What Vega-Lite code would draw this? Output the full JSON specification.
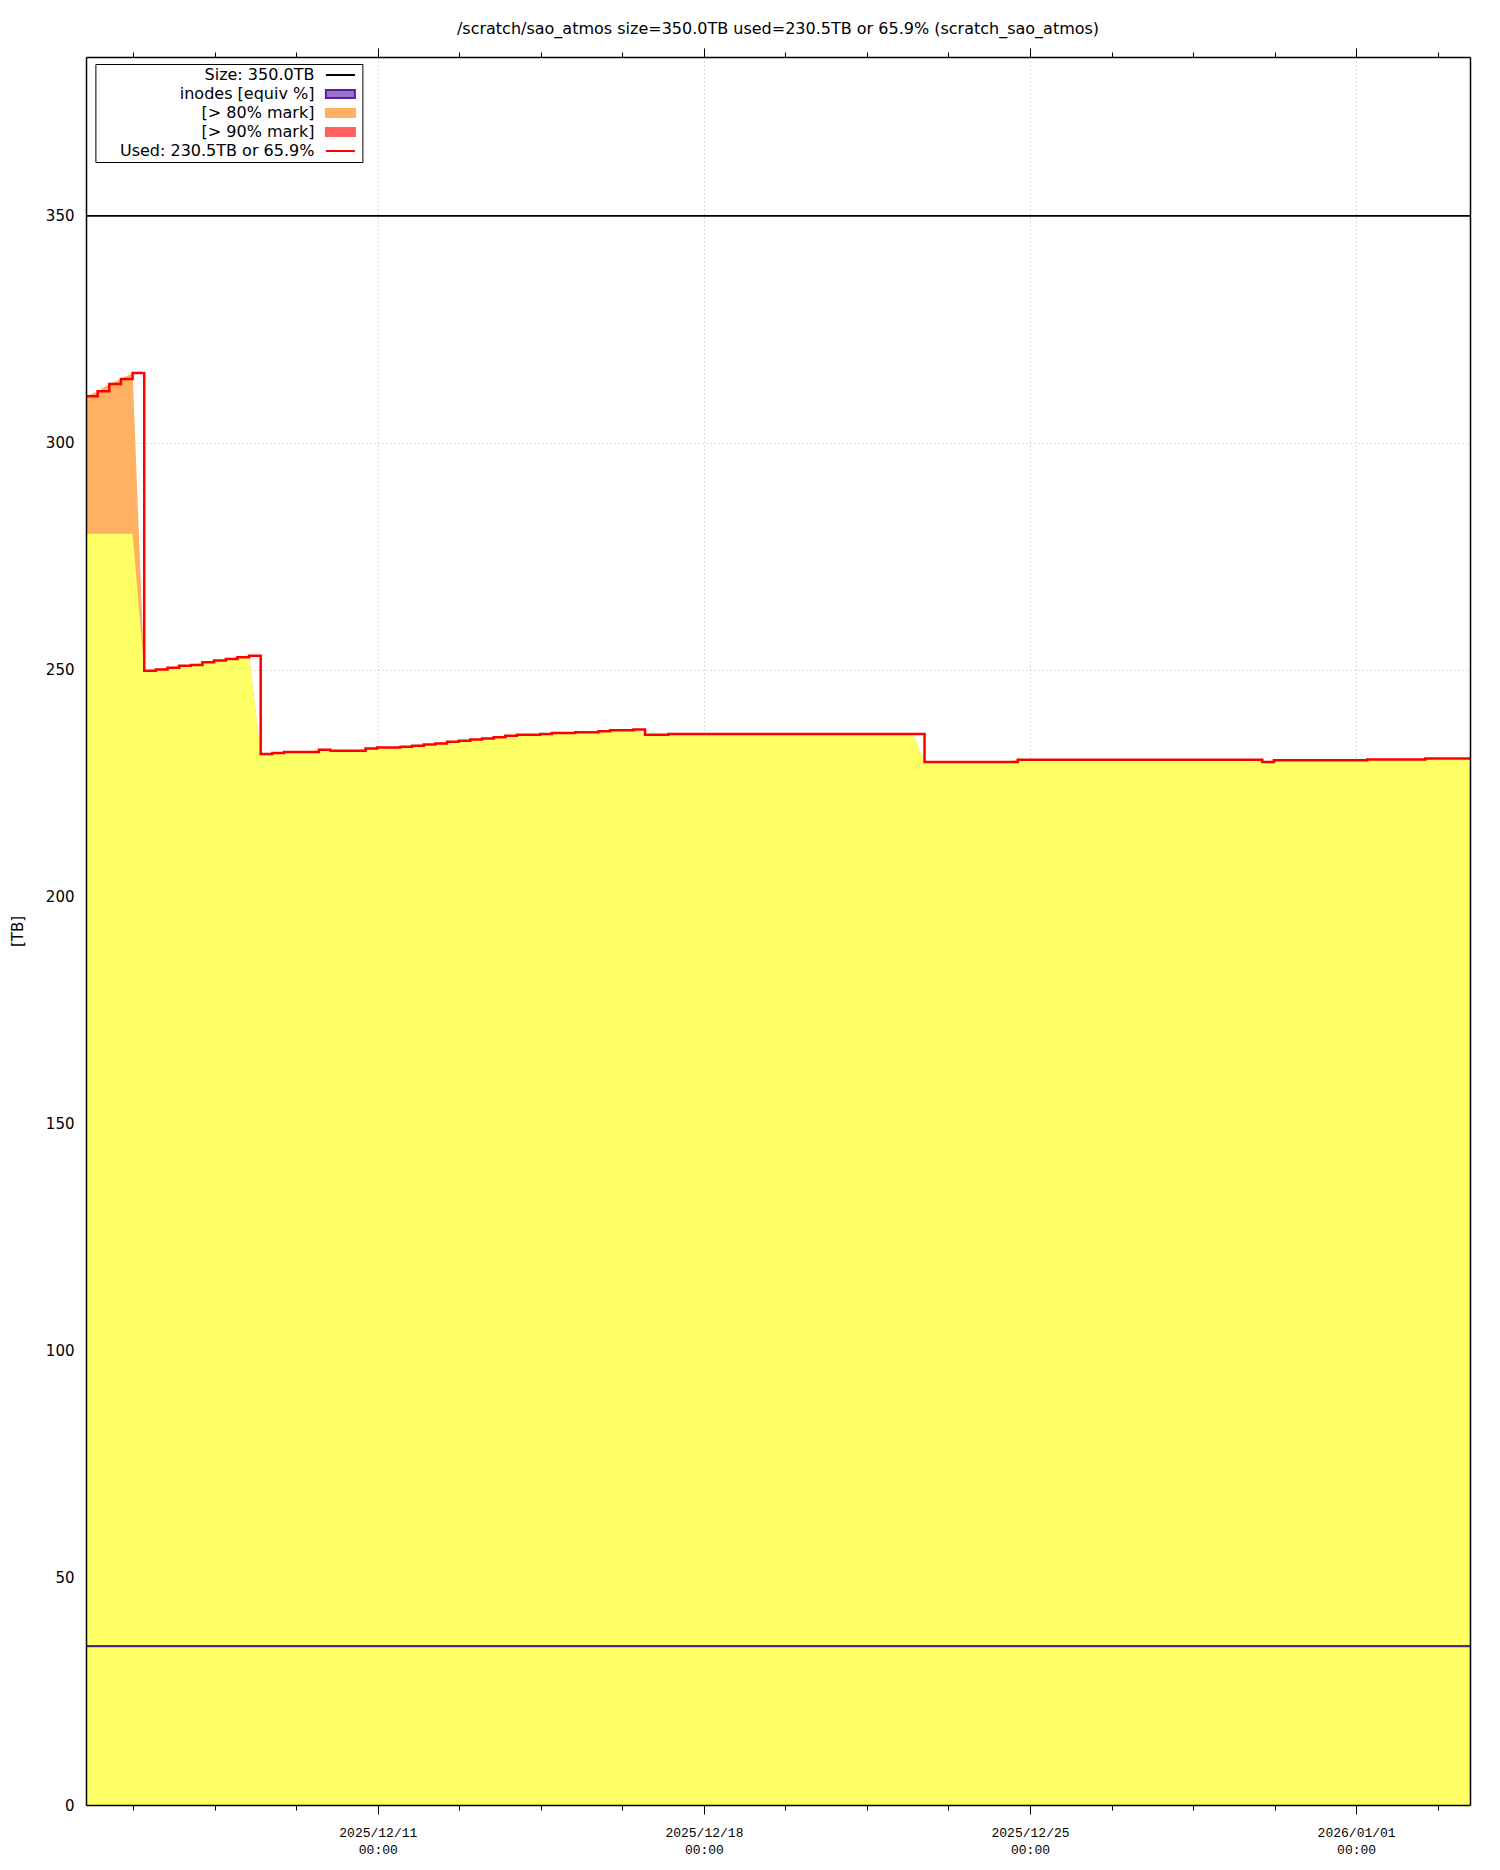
{
  "$schema": "https://vega.github.io/schema/vega-lite/v6.json",
  "width": 1384,
  "height": 1748,
  "autosize": "none",
  "padding": {"left": 86, "top": 57, "right": 30, "bottom": 65},
  "background": "white",
  "title": {
    "text": "/scratch/sao_atmos size=350.0TB used=230.5TB or 65.9% (scratch_sao_atmos)",
    "font": "DejaVu Sans",
    "fontSize": 16,
    "fontWeight": "normal",
    "color": "black",
    "anchor": "middle",
    "baseline": "alphabetic",
    "offset": -2.5
  },
  "config": {
    "view": {"stroke": null},
    "axis": {"labelColor": "black", "tickColor": "black", "domainColor": "black"}
  },
  "datasets": {
    "usage": [
      {"t": "2025-12-04T17:40:00Z", "used": 310.3, "below80": 280},
      {"t": "2025-12-04T23:40:00Z", "used": 311.4, "below80": 280},
      {"t": "2025-12-05T05:40:00Z", "used": 313.0, "below80": 280},
      {"t": "2025-12-05T11:40:00Z", "used": 314.1, "below80": 280},
      {"t": "2025-12-05T17:40:00Z", "used": 315.4, "below80": 280},
      {"t": "2025-12-05T23:40:00Z", "used": 249.8, "below80": 249.8},
      {"t": "2025-12-06T05:40:00Z", "used": 250.1, "below80": 250.1},
      {"t": "2025-12-06T11:40:00Z", "used": 250.5, "below80": 250.5},
      {"t": "2025-12-06T17:40:00Z", "used": 250.9, "below80": 250.9},
      {"t": "2025-12-06T23:40:00Z", "used": 251.1, "below80": 251.1},
      {"t": "2025-12-07T05:40:00Z", "used": 251.7, "below80": 251.7},
      {"t": "2025-12-07T11:40:00Z", "used": 252.1, "below80": 252.1},
      {"t": "2025-12-07T17:40:00Z", "used": 252.4, "below80": 252.4},
      {"t": "2025-12-07T23:40:00Z", "used": 252.8, "below80": 252.8},
      {"t": "2025-12-08T05:40:00Z", "used": 253.1, "below80": 253.1},
      {"t": "2025-12-08T11:40:00Z", "used": 231.5, "below80": 231.5},
      {"t": "2025-12-08T17:40:00Z", "used": 231.7, "below80": 231.7},
      {"t": "2025-12-08T23:40:00Z", "used": 231.9, "below80": 231.9},
      {"t": "2025-12-09T05:40:00Z", "used": 231.9, "below80": 231.9},
      {"t": "2025-12-09T11:40:00Z", "used": 231.9, "below80": 231.9},
      {"t": "2025-12-09T17:40:00Z", "used": 232.4, "below80": 232.4},
      {"t": "2025-12-09T23:40:00Z", "used": 232.2, "below80": 232.2},
      {"t": "2025-12-10T05:40:00Z", "used": 232.2, "below80": 232.2},
      {"t": "2025-12-10T11:40:00Z", "used": 232.2, "below80": 232.2},
      {"t": "2025-12-10T17:40:00Z", "used": 232.7, "below80": 232.7},
      {"t": "2025-12-10T23:40:00Z", "used": 232.9, "below80": 232.9},
      {"t": "2025-12-11T05:40:00Z", "used": 232.9, "below80": 232.9},
      {"t": "2025-12-11T11:40:00Z", "used": 233.1, "below80": 233.1},
      {"t": "2025-12-11T17:40:00Z", "used": 233.3, "below80": 233.3},
      {"t": "2025-12-11T23:40:00Z", "used": 233.6, "below80": 233.6},
      {"t": "2025-12-12T05:40:00Z", "used": 233.8, "below80": 233.8},
      {"t": "2025-12-12T11:40:00Z", "used": 234.2, "below80": 234.2},
      {"t": "2025-12-12T17:40:00Z", "used": 234.4, "below80": 234.4},
      {"t": "2025-12-12T23:40:00Z", "used": 234.7, "below80": 234.7},
      {"t": "2025-12-13T05:40:00Z", "used": 234.9, "below80": 234.9},
      {"t": "2025-12-13T11:40:00Z", "used": 235.2, "below80": 235.2},
      {"t": "2025-12-13T17:40:00Z", "used": 235.5, "below80": 235.5},
      {"t": "2025-12-13T23:40:00Z", "used": 235.7, "below80": 235.7},
      {"t": "2025-12-14T05:40:00Z", "used": 235.7, "below80": 235.7},
      {"t": "2025-12-14T11:40:00Z", "used": 235.9, "below80": 235.9},
      {"t": "2025-12-14T17:40:00Z", "used": 236.1, "below80": 236.1},
      {"t": "2025-12-14T23:40:00Z", "used": 236.1, "below80": 236.1},
      {"t": "2025-12-15T05:40:00Z", "used": 236.3, "below80": 236.3},
      {"t": "2025-12-15T11:40:00Z", "used": 236.3, "below80": 236.3},
      {"t": "2025-12-15T17:40:00Z", "used": 236.5, "below80": 236.5},
      {"t": "2025-12-15T23:40:00Z", "used": 236.7, "below80": 236.7},
      {"t": "2025-12-16T05:40:00Z", "used": 236.7, "below80": 236.7},
      {"t": "2025-12-16T11:40:00Z", "used": 236.9, "below80": 236.9},
      {"t": "2025-12-16T17:40:00Z", "used": 235.7, "below80": 235.7},
      {"t": "2025-12-16T23:40:00Z", "used": 235.7, "below80": 235.7},
      {"t": "2025-12-17T05:40:00Z", "used": 235.9, "below80": 235.9},
      {"t": "2025-12-17T11:40:00Z", "used": 235.9, "below80": 235.9},
      {"t": "2025-12-17T17:40:00Z", "used": 235.9, "below80": 235.9},
      {"t": "2025-12-17T23:40:00Z", "used": 235.9, "below80": 235.9},
      {"t": "2025-12-18T05:40:00Z", "used": 235.9, "below80": 235.9},
      {"t": "2025-12-18T11:40:00Z", "used": 235.9, "below80": 235.9},
      {"t": "2025-12-18T17:40:00Z", "used": 235.9, "below80": 235.9},
      {"t": "2025-12-18T23:40:00Z", "used": 235.9, "below80": 235.9},
      {"t": "2025-12-19T05:40:00Z", "used": 235.9, "below80": 235.9},
      {"t": "2025-12-19T11:40:00Z", "used": 235.9, "below80": 235.9},
      {"t": "2025-12-19T17:40:00Z", "used": 235.9, "below80": 235.9},
      {"t": "2025-12-19T23:40:00Z", "used": 235.9, "below80": 235.9},
      {"t": "2025-12-20T05:40:00Z", "used": 235.9, "below80": 235.9},
      {"t": "2025-12-20T11:40:00Z", "used": 235.9, "below80": 235.9},
      {"t": "2025-12-20T17:40:00Z", "used": 235.9, "below80": 235.9},
      {"t": "2025-12-20T23:40:00Z", "used": 235.9, "below80": 235.9},
      {"t": "2025-12-21T05:40:00Z", "used": 235.9, "below80": 235.9},
      {"t": "2025-12-21T11:40:00Z", "used": 235.9, "below80": 235.9},
      {"t": "2025-12-21T17:40:00Z", "used": 235.9, "below80": 235.9},
      {"t": "2025-12-21T23:40:00Z", "used": 235.9, "below80": 235.9},
      {"t": "2025-12-22T05:40:00Z", "used": 235.9, "below80": 235.9},
      {"t": "2025-12-22T11:40:00Z", "used": 235.9, "below80": 235.9},
      {"t": "2025-12-22T17:40:00Z", "used": 229.7, "below80": 229.7},
      {"t": "2025-12-22T23:40:00Z", "used": 229.7, "below80": 229.7},
      {"t": "2025-12-23T05:40:00Z", "used": 229.7, "below80": 229.7},
      {"t": "2025-12-23T11:40:00Z", "used": 229.7, "below80": 229.7},
      {"t": "2025-12-23T17:40:00Z", "used": 229.7, "below80": 229.7},
      {"t": "2025-12-23T23:40:00Z", "used": 229.7, "below80": 229.7},
      {"t": "2025-12-24T05:40:00Z", "used": 229.7, "below80": 229.7},
      {"t": "2025-12-24T11:40:00Z", "used": 229.7, "below80": 229.7},
      {"t": "2025-12-24T17:40:00Z", "used": 230.2, "below80": 230.2},
      {"t": "2025-12-24T23:40:00Z", "used": 230.2, "below80": 230.2},
      {"t": "2025-12-25T05:40:00Z", "used": 230.2, "below80": 230.2},
      {"t": "2025-12-25T11:40:00Z", "used": 230.2, "below80": 230.2},
      {"t": "2025-12-25T17:40:00Z", "used": 230.2, "below80": 230.2},
      {"t": "2025-12-25T23:40:00Z", "used": 230.2, "below80": 230.2},
      {"t": "2025-12-26T05:40:00Z", "used": 230.2, "below80": 230.2},
      {"t": "2025-12-26T11:40:00Z", "used": 230.2, "below80": 230.2},
      {"t": "2025-12-26T17:40:00Z", "used": 230.2, "below80": 230.2},
      {"t": "2025-12-26T23:40:00Z", "used": 230.2, "below80": 230.2},
      {"t": "2025-12-27T05:40:00Z", "used": 230.2, "below80": 230.2},
      {"t": "2025-12-27T11:40:00Z", "used": 230.2, "below80": 230.2},
      {"t": "2025-12-27T17:40:00Z", "used": 230.2, "below80": 230.2},
      {"t": "2025-12-27T23:40:00Z", "used": 230.2, "below80": 230.2},
      {"t": "2025-12-28T05:40:00Z", "used": 230.2, "below80": 230.2},
      {"t": "2025-12-28T11:40:00Z", "used": 230.2, "below80": 230.2},
      {"t": "2025-12-28T17:40:00Z", "used": 230.2, "below80": 230.2},
      {"t": "2025-12-28T23:40:00Z", "used": 230.2, "below80": 230.2},
      {"t": "2025-12-29T05:40:00Z", "used": 230.2, "below80": 230.2},
      {"t": "2025-12-29T11:40:00Z", "used": 230.2, "below80": 230.2},
      {"t": "2025-12-29T17:40:00Z", "used": 230.2, "below80": 230.2},
      {"t": "2025-12-29T23:40:00Z", "used": 229.7, "below80": 229.7},
      {"t": "2025-12-30T05:40:00Z", "used": 230.1, "below80": 230.1},
      {"t": "2025-12-30T11:40:00Z", "used": 230.1, "below80": 230.1},
      {"t": "2025-12-30T17:40:00Z", "used": 230.1, "below80": 230.1},
      {"t": "2025-12-30T23:40:00Z", "used": 230.1, "below80": 230.1},
      {"t": "2025-12-31T05:40:00Z", "used": 230.1, "below80": 230.1},
      {"t": "2025-12-31T11:40:00Z", "used": 230.1, "below80": 230.1},
      {"t": "2025-12-31T17:40:00Z", "used": 230.1, "below80": 230.1},
      {"t": "2025-12-31T23:40:00Z", "used": 230.1, "below80": 230.1},
      {"t": "2026-01-01T05:40:00Z", "used": 230.3, "below80": 230.3},
      {"t": "2026-01-01T11:40:00Z", "used": 230.3, "below80": 230.3},
      {"t": "2026-01-01T17:40:00Z", "used": 230.3, "below80": 230.3},
      {"t": "2026-01-01T23:40:00Z", "used": 230.3, "below80": 230.3},
      {"t": "2026-01-02T05:40:00Z", "used": 230.3, "below80": 230.3},
      {"t": "2026-01-02T11:40:00Z", "used": 230.5, "below80": 230.5},
      {"t": "2026-01-02T17:40:00Z", "used": 230.5, "below80": 230.5},
      {"t": "2026-01-02T23:40:00Z", "used": 230.5, "below80": 230.5},
      {"t": "2026-01-03T05:40:00Z", "used": 230.5, "below80": 230.5},
      {"t": "2026-01-03T10:40:00Z", "used": 230.5, "below80": 230.5}
    ],
    "legend": [
      {"s": "Size: 350.0TB"},
      {"s": "inodes [equiv %]"},
      {"s": "[> 80% mark]"},
      {"s": "[> 90% mark]"},
      {"s": "Used: 230.5TB or 65.9%"}
    ]
  },
  "layer": [
    {
      "layer": [
        {
          "data": {"name": "usage"},
          "mark": {"type": "area", "color": "#ffb060", "interpolate": "linear"},
          "encoding": {
            "x": {
              "field": "t", "type": "temporal",
              "scale": {"type": "utc", "domain": [1764870000000, 1767436800000], "nice": false},
              "axis": {
                "orient": "bottom",
                "values": [1764957600000, 1765108800000, 1765260000000, 1765411200000, 1765562400000, 1765713600000, 1765864800000, 1766016000000, 1766167200000, 1766318400000, 1766469600000, 1766620800000, 1766772000000, 1766923200000, 1767074400000, 1767225600000, 1767376800000],
                "title": null,
                "grid": true,
                "gridColor": "#bcbcbc",
                "gridDash": [1, 3],
                "gridWidth": 1,
                "gridOpacity": {"condition": {"test": "(datum.value - 1765411200000) % 604800000 == 0", "value": 1}, "value": 0},
                "domain": false,
                "ticks": true,
                "tickColor": "black",
                "tickWidth": 1,
                "tickSize": {"condition": {"test": "(datum.value - 1765411200000) % 604800000 == 0", "value": 9}, "value": 5},
                "labelExpr": "(datum.value - 1765411200000) % 604800000 == 0 ? [utcFormat(datum.value, '%Y/%m/%d'), utcFormat(datum.value, '%H:%M')] : ''",
                "labelFont": "Liberation Mono",
                "labelFontSize": 13,
                "labelColor": "black",
                "labelPadding": 12,
                "labelLineHeight": 17,
                "labelBaseline": "top",
                "labelAlign": "center",
                "labelOverlap": false,
                "labelBound": false,
                "labelFlush": false,
                "zindex": 0
              }
            },
            "y": {
              "field": "used", "type": "quantitative",
              "scale": {"domain": [0, 385], "nice": false, "zero": false},
              "axis": {
                "orient": "left",
                "values": [0, 50, 100, 150, 200, 250, 300, 350],
                "title": "[TB]",
                "titleFont": "DejaVu Sans",
                "titleFontSize": 15,
                "titleFontWeight": "normal",
                "titleColor": "black",
                "titlePadding": 20,
                "grid": true,
                "gridColor": "#bcbcbc",
                "gridDash": [1, 3],
                "gridWidth": 1,
                "domain": false,
                "ticks": false,
                "tickSize": 0,
                "labelFont": "DejaVu Sans",
                "labelFontSize": 15,
                "labelColor": "black",
                "labelPadding": 12,
                "zindex": 0
              }
            }
          }
        },
        {
          "data": {"name": "usage"},
          "mark": {"type": "area", "color": "#ffff66", "interpolate": "linear"},
          "encoding": {
            "x": {"field": "t", "type": "temporal"},
            "y": {"field": "below80", "type": "quantitative"}
          }
        },
        {
          "data": {"name": "legend"},
          "mark": {"type": "point", "filled": true, "opacity": 0},
          "encoding": {
            "fill": {
              "field": "s", "type": "nominal",
              "scale": {"domain": ["Size: 350.0TB", "inodes [equiv %]", "[> 80% mark]", "[> 90% mark]", "Used: 230.5TB or 65.9%"], "range": ["#000000", "#9a74cc", "#ffb060", "#ff6060", "#ff0000"]},
              "legend": {
                "title": null,
                "orient": "none",
                "legendX": 9.4,
                "legendY": 7,
                "direction": "vertical",
                "fillColor": "white",
                "strokeColor": "black",
                "padding": 3,
                "cornerRadius": 0,
                "rowPadding": 3,
                "symbolSize": 100,
                "symbolStrokeWidth": 2,
                "symbolOpacity": 1,
                "symbolOffset": 234,
                "labelAlign": "right",
                "labelOffset": -34,
                "labelFont": "DejaVu Sans",
                "labelFontSize": 16,
                "labelColor": "black",
                "labelLimit": 400,
                "encode": {"symbols": {"update": {"opacity": {"value": 1}}}}
              }
            },
            "stroke": {
              "field": "s", "type": "nominal",
              "scale": {"domain": ["Size: 350.0TB", "inodes [equiv %]", "[> 80% mark]", "[> 90% mark]", "Used: 230.5TB or 65.9%"], "range": ["#000000", "#5a1f9e", "#ffb060", "#ff6060", "#ff0000"]}
            },
            "shape": {
              "field": "s", "type": "nominal",
              "scale": {"domain": ["Size: 350.0TB", "inodes [equiv %]", "[> 80% mark]", "[> 90% mark]", "Used: 230.5TB or 65.9%"], "range": ["M-2.9,0H2.9", "M-2.9,-0.8H2.9V0.8H-2.9Z", "M-2.9,-0.8H2.9V0.8H-2.9Z", "M-2.9,-0.8H2.9V0.8H-2.9Z", "M-2.9,0H2.9"]}
            }
          }
        }
      ]
    },
    {
      "data": {"name": "usage"},
      "mark": {"type": "line", "color": "#50288c", "strokeWidth": 2.2},
      "encoding": {
        "x": {
          "field": "t", "type": "temporal",
          "scale": {"type": "utc", "domain": [1764870000000, 1767436800000], "nice": false},
          "axis": {
            "orient": "top",
            "values": [1764957600000, 1765108800000, 1765260000000, 1765411200000, 1765562400000, 1765713600000, 1765864800000, 1766016000000, 1766167200000, 1766318400000, 1766469600000, 1766620800000, 1766772000000, 1766923200000, 1767074400000, 1767225600000, 1767376800000],
            "title": null,
            "grid": false,
            "domain": true,
            "domainColor": "black",
            "domainWidth": 1.5,
            "ticks": true,
            "tickColor": "black",
            "tickWidth": 1,
            "tickSize": {"condition": {"test": "(datum.value - 1765411200000) % 604800000 == 0", "value": 9}, "value": 5},
            "labels": false,
            "zindex": 1
          }
        },
        "y": {
          "datum": 35, "type": "quantitative",
          "scale": {"domain": [0, 385], "nice": false, "zero": false},
          "axis": {"orient": "right", "title": null, "grid": false, "domain": true, "domainColor": "black", "domainWidth": 1.5, "ticks": false, "labels": false, "zindex": 1}
        }
      }
    },
    {
      "data": {"name": "usage"},
      "mark": {"type": "line", "color": "#000000", "strokeWidth": 1.6},
      "encoding": {
        "x": {
          "field": "t", "type": "temporal",
          "scale": {"type": "utc", "domain": [1764870000000, 1767436800000], "nice": false},
          "axis": {"orient": "bottom", "title": null, "grid": false, "domain": true, "domainColor": "black", "domainWidth": 1.5, "ticks": false, "labels": false, "zindex": 1}
        },
        "y": {
          "datum": 350, "type": "quantitative",
          "scale": {"domain": [0, 385], "nice": false, "zero": false},
          "axis": {"orient": "left", "title": null, "grid": false, "domain": true, "domainColor": "black", "domainWidth": 1.5, "ticks": false, "labels": false, "zindex": 1}
        }
      }
    },
    {
      "data": {"name": "usage"},
      "mark": {"type": "line", "color": "#ff0000", "strokeWidth": 2.5, "interpolate": "step-after"},
      "encoding": {
        "x": {
          "field": "t", "type": "temporal",
          "scale": {"type": "utc", "domain": [1764870000000, 1767436800000], "nice": false},
          "axis": null
        },
        "y": {
          "field": "used", "type": "quantitative",
          "scale": {"domain": [0, 385], "nice": false, "zero": false},
          "axis": null
        }
      }
    }
  ],
  "resolve": {
    "scale": {"x": "independent", "y": "independent"},
    "axis": {"x": "independent", "y": "independent"}
  }
}
